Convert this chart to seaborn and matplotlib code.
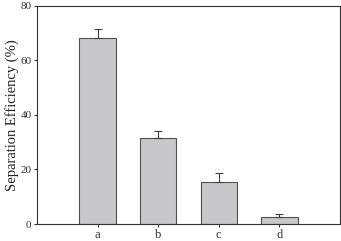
import matplotlib
matplotlib.use("Agg")
import matplotlib.pyplot as plt
import seaborn as sns
import pandas as pd
import numpy as np

categories = ["a", "b", "c", "d"]
values = [68.2, 31.6, 15.4, 2.5]
errors = [3.3, 2.6, 3.3, 1.2]
yticks = [0, 20, 40, 60, 80]

sns.set_style("ticks")
plt.rcParams['font.family'] = ['Liberation Serif', 'DejaVu Serif']

df = pd.DataFrame({"cat": categories, "val": values})

fig = plt.figure(figsize=(3.41, 2.41), dpi=100)
ax = fig.add_axes([37/341, (241-224)/241, (340-37)/341, (224-5.5)/241])

sns.barplot(data=df, x="cat", y="val", ax=ax, color="#c8c8cb",
            edgecolor="#505050", linewidth=0.8, width=0.6, saturation=1)
x = np.arange(len(categories))
ax.errorbar(x, values, yerr=[np.zeros(len(errors)), errors], fmt="none",
            ecolor="#404040", elinewidth=0.8, capsize=3, capthick=0.8)

ax.set_xlim(-1, 4)
ax.set_ylim(0, 80)
ax.set_yticks(yticks)
ax.set_xlabel("")
ax.set_ylabel("Separation Efficiency (%)", fontsize=10.5, color="#222222", labelpad=1)
ax.tick_params(axis="both", direction="out", length=2.5, width=0.8,
               labelsize=8, colors="#333333", pad=1.5)
ax.tick_params(axis="x", labelsize=9, pad=1)
for s in ax.spines.values():
    s.set_visible(True)
    s.set_linewidth(0.8)
    s.set_color("#333333")

fig.savefig("out.png", dpi=100)
